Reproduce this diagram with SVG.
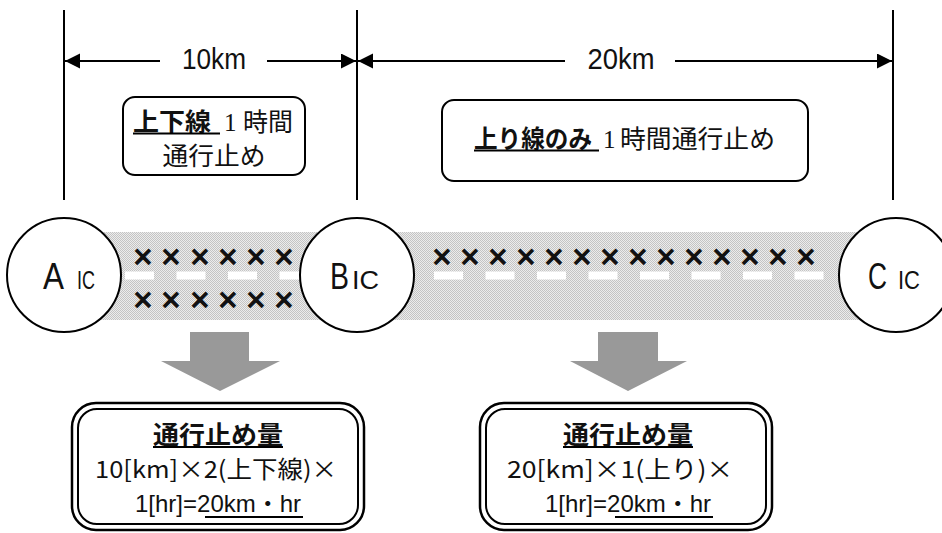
<svg xmlns="http://www.w3.org/2000/svg" width="942" height="533" viewBox="0 0 942 533">
<style>
.ln{stroke:#000;stroke-width:2;fill:none}
.jp{font-family:"Noto Sans CJK JP","Liberation Sans",sans-serif;fill:#111}
.lat{font-family:"Liberation Sans","Noto Sans CJK JP",sans-serif;fill:#111}
.dot{font-family:"Noto Sans CJK JP",sans-serif}
.x{font-family:"Liberation Sans",sans-serif;font-weight:bold;font-size:33px;fill:#111;text-anchor:middle}
.ic{stroke:#000;stroke-width:2;fill:#fff}
.garrow{fill:#999}
</style>
<defs>
<marker id="ah" markerUnits="userSpaceOnUse" markerWidth="16" markerHeight="16" refX="15" refY="7.5" orient="auto-start-reverse">
<path d="M0,0 L15,7.5 L0,15 z" fill="#000"/>
</marker>
<pattern id="road" width="2" height="2" patternUnits="userSpaceOnUse">
<rect width="2" height="2" fill="#ececec"/>
<rect width="1" height="1" fill="#c4c4c4"/>
<rect x="1" y="1" width="1" height="1" fill="#c4c4c4"/>
</pattern>
</defs>
<rect width="942" height="533" fill="#fff"/>

<g id="dimensions">
<line class="ln" x1="64" y1="10" x2="64" y2="200"/>
<line class="ln" x1="357" y1="10" x2="357" y2="200"/>
<line class="ln" x1="893" y1="10" x2="893" y2="200"/>
</g>

<g id="connectors">
<line class="ln" x1="160" y1="61" x2="65" y2="61" marker-end="url(#ah)"/>
<line class="ln" x1="267" y1="61" x2="356" y2="61" marker-end="url(#ah)"/>
<line class="ln" x1="565" y1="61" x2="358" y2="61" marker-end="url(#ah)"/>
<line class="ln" x1="675" y1="61" x2="892" y2="61" marker-end="url(#ah)"/>
</g>
<text class="lat" x="214" y="69" font-size="29" text-anchor="middle" textLength="64" lengthAdjust="spacingAndGlyphs">10km</text>
<text class="lat" x="621" y="69" font-size="29" text-anchor="middle" textLength="67" lengthAdjust="spacingAndGlyphs">20km</text>

<g id="note1">
<rect x="123" y="97" width="182" height="78" rx="12" ry="12" class="ln" fill="#fff"/>
<text class="jp" font-size="25" y="131"><tspan x="133" font-weight="bold" textLength="78" lengthAdjust="spacingAndGlyphs">上下線</tspan><tspan x="224" font-family="Liberation Serif,serif">1</tspan><tspan x="243" textLength="50" lengthAdjust="spacingAndGlyphs">時間</tspan></text>
<line x1="133" y1="133.5" x2="220" y2="133.5" stroke="#000" stroke-width="2"/>
<text class="jp" font-size="25" x="214" y="165" text-anchor="middle" textLength="103" lengthAdjust="spacingAndGlyphs">通行止め</text>
</g>

<g id="note2">
<rect x="442" y="100" width="366" height="81" rx="12" ry="12" class="ln" fill="#fff"/>
<text class="jp" font-size="25" y="148"><tspan x="474" font-weight="bold" textLength="118" lengthAdjust="spacingAndGlyphs">上り線のみ</tspan><tspan x="603" font-family="Liberation Serif,serif">1</tspan><tspan x="620" textLength="155" lengthAdjust="spacingAndGlyphs">時間通行止め</tspan></text>
<line x1="474" y1="150.5" x2="599" y2="150.5" stroke="#000" stroke-width="2"/>
</g>

<g id="road">
<rect x="100" y="232" width="760" height="88" fill="url(#road)"/>
<line x1="125" y1="275.5" x2="845" y2="275.5" stroke="#fff" stroke-width="8" stroke-dasharray="29 22.5"/>
<g id="closed-ab">
<text class="x" y="267.5"><tspan x="143">×</tspan><tspan x="171">×</tspan><tspan x="200">×</tspan><tspan x="228">×</tspan><tspan x="256">×</tspan><tspan x="284">×</tspan></text>
<text class="x" y="310.5"><tspan x="143">×</tspan><tspan x="171">×</tspan><tspan x="200">×</tspan><tspan x="228">×</tspan><tspan x="256">×</tspan><tspan x="284">×</tspan></text>
</g>
<g id="closed-bc">
<text class="x" y="267.5"><tspan x="442">×</tspan><tspan x="470">×</tspan><tspan x="498">×</tspan><tspan x="526">×</tspan><tspan x="554">×</tspan><tspan x="582">×</tspan><tspan x="610">×</tspan><tspan x="638">×</tspan><tspan x="666">×</tspan><tspan x="694">×</tspan><tspan x="722">×</tspan><tspan x="750">×</tspan><tspan x="778">×</tspan><tspan x="806">×</tspan></text>
</g>
</g>

<g id="icA">
<circle class="ic" cx="64" cy="275" r="57"/>
<text class="lat" y="289"><tspan x="43" font-size="36" textLength="21" lengthAdjust="spacingAndGlyphs">A</tspan><tspan x="77" font-size="25" textLength="18" lengthAdjust="spacingAndGlyphs">IC</tspan></text>
</g>
<g id="icB">
<circle class="ic" cx="357" cy="275" r="57"/>
<text class="lat" y="289"><tspan x="330" font-size="36" textLength="19" lengthAdjust="spacingAndGlyphs">B</tspan><tspan x="352" font-size="25" textLength="27" lengthAdjust="spacingAndGlyphs">IC</tspan></text>
</g>
<g id="icC">
<circle class="ic" cx="896" cy="275" r="57"/>
<text class="lat" y="289"><tspan x="868" font-size="36" textLength="19" lengthAdjust="spacingAndGlyphs">C</tspan><tspan x="898" font-size="25" textLength="22" lengthAdjust="spacingAndGlyphs">IC</tspan></text>
</g>

<g id="arrow1">
<polygon class="garrow" points="190,332 249,332 249,361 280,361 220,391 161,361 190,361"/>
</g>
<g id="arrow2">
<polygon class="garrow" points="598,332 658,332 658,361 687,361 628,391 570,361 598,361"/>
</g>

<g id="result1">
<rect x="72" y="403" width="292" height="127" rx="24" ry="24" fill="#fff" stroke="#000" stroke-width="2.5"/>
<rect x="78" y="409" width="280" height="115" rx="19" ry="19" fill="none" stroke="#000" stroke-width="2"/>
<text class="jp" font-size="25" font-weight="bold" x="218" y="444" text-anchor="middle" textLength="130" lengthAdjust="spacingAndGlyphs">通行止め量</text>
<line x1="153" y1="447" x2="283" y2="447" stroke="#000" stroke-width="2"/>
<text class="jp" font-size="24" x="216" y="478" text-anchor="middle" textLength="242" lengthAdjust="spacingAndGlyphs">10[km]×2(上下線)×</text>
<text class="lat" font-size="24" x="135" y="512">1[hr]=20km<tspan class="dot">・</tspan>hr</text>
<line x1="205" y1="517" x2="303" y2="517" stroke="#000" stroke-width="2"/>
</g>

<g id="result2">
<rect x="480" y="403" width="292" height="127" rx="24" ry="24" fill="#fff" stroke="#000" stroke-width="2.5"/>
<rect x="486" y="409" width="280" height="115" rx="19" ry="19" fill="none" stroke="#000" stroke-width="2"/>
<text class="jp" font-size="25" font-weight="bold" x="628" y="444" text-anchor="middle" textLength="130" lengthAdjust="spacingAndGlyphs">通行止め量</text>
<line x1="563" y1="447" x2="693" y2="447" stroke="#000" stroke-width="2"/>
<text class="jp" font-size="24" x="620" y="478" text-anchor="middle" textLength="226" lengthAdjust="spacingAndGlyphs">20[km]×1(上り)×</text>
<text class="lat" font-size="24" x="545" y="512">1[hr]=20km<tspan class="dot">・</tspan>hr</text>
<line x1="615" y1="517" x2="713" y2="517" stroke="#000" stroke-width="2"/>
</g>
</svg>
